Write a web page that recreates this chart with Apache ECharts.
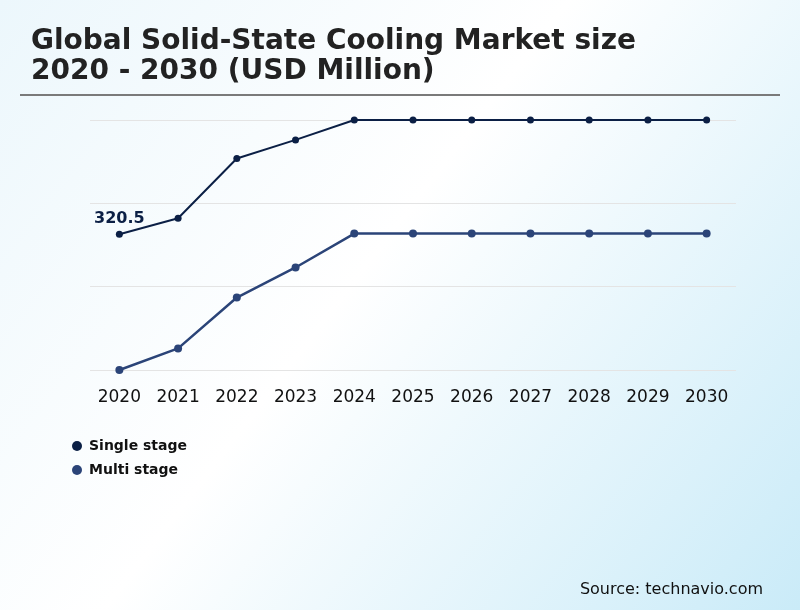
<!DOCTYPE html>
<html>
<head>
<meta charset="utf-8">
<script src="https://cdn.jsdelivr.net/npm/echarts@6/dist/echarts.min.js"></script>
<style>
html,body{margin:0;padding:0;}
#chart{width:800px;height:610px;}
</style>
</head>
<body>
<div id="chart"></div>
<script>
var categories = ['2020','2021','2022','2023','2024','2025','2026','2027','2028','2029','2030'];
var singleStage = [320.5, 358, 499, 543, 590, 590, 590, 590, 590, 590, 590];
var multiStage = [0, 51, 171, 242, 322, 322, 322, 322, 322, 322, 322];
var seriesNames = ['Single stage', 'Multi stage'];
var yMin = 0;
var yMax = 590;
var yInterval = (yMax - yMin) / 3;

var chart = echarts.init(document.getElementById('chart'));
var font = 'DejaVu Sans';
chart.setOption({
  backgroundColor: {
    type: 'linear', x: 0, y: 0, x2: 1, y2: 1,
    colorStops: [
      {offset: 0, color: '#ecf7fc'},
      {offset: 0.45, color: '#ffffff'},
      {offset: 1, color: '#caebf8'}
    ]
  },
  textStyle: {fontFamily: font},
  title: {
    text: 'Global Solid-State Cooling Market size\n2020 - 2030 (USD Million)',
    left: 31, top: 26, padding: 0,
    textStyle: {fontFamily: font, fontSize: 28, fontWeight: 'bold', color: '#222222', lineHeight: 30.5}
  },
  graphic: [
    {type: 'line', shape: {x1: 20, y1: 95, x2: 780, y2: 95}, style: {stroke: '#7a7a7a', lineWidth: 2}},
    {type: 'text', right: 37, top: 582, style: {text: 'Source: technavio.com', font: '16px "DejaVu Sans"', fill: '#111111'}}
  ],
  legend: {
    orient: 'vertical',
    left: 72, top: 439, padding: 0,
    icon: 'circle',
    itemWidth: 10, itemHeight: 10, itemGap: 10,
    textStyle: {fontFamily: font, fontSize: 14, fontWeight: 'bold', color: '#111111', padding: [0, 0, 0, 2]},
    data: seriesNames
  },
  grid: {left: 90, right: 64, top: 120, bottom: 240},
  xAxis: {
    type: 'category',
    data: categories,
    boundaryGap: true,
    axisLine: {show: false},
    axisTick: {show: false},
    axisLabel: {fontFamily: font, fontSize: 17, color: '#111111', margin: 19}
  },
  yAxis: {
    type: 'value',
    min: yMin, max: yMax, interval: yInterval,
    axisLabel: {show: false},
    axisLine: {show: false},
    axisTick: {show: false},
    splitLine: {lineStyle: {color: '#e4e4e4', width: 1}}
  },
  series: [
    {
      name: seriesNames[0],
      type: 'line',
      data: singleStage,
      color: '#0b1f45',
      symbol: 'circle', symbolSize: 7,
      lineStyle: {width: 2, color: '#0b1f45'},
      itemStyle: {color: '#0b1f45'},
      label: {
        show: true, position: 'top', distance: 4,
        fontFamily: font, fontSize: 16, fontWeight: 'bold', color: '#0b1f45',
        formatter: function (p) { return p.dataIndex === 0 ? String(p.value) : ''; }
      },
      z: 3
    },
    {
      name: seriesNames[1],
      type: 'line',
      data: multiStage,
      color: '#2b4478',
      symbol: 'circle', symbolSize: 8,
      lineStyle: {width: 2.5, color: '#2b4478'},
      itemStyle: {color: '#2b4478'},
      z: 2
    }
  ],
  animation: false
});
</script>
</body>
</html>
